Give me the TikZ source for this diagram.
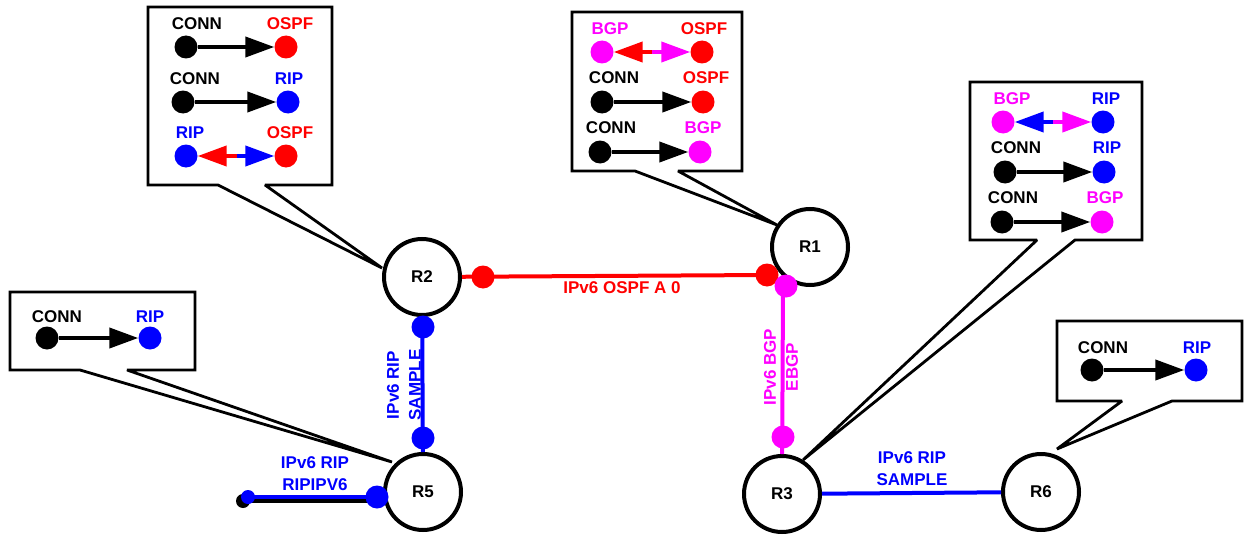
\documentclass[tikz,border=0pt]{standalone}
\usepackage{fontspec}
\setmainfont{Liberation Sans}
\usetikzlibrary{arrows.meta}
\definecolor{ospfc}{RGB}{255,0,0}
\definecolor{ripc}{RGB}{0,0,255}
\definecolor{bgpc}{RGB}{255,0,255}
\begin{document}
\begin{tikzpicture}[x=1pt,y=-1pt,
  every node/.style={font=\fontsize{17}{22}\selectfont\bfseries},
  router/.style={circle, draw=black, line width=4pt, fill=white, minimum size=76pt, inner sep=0pt},
  dotn/.style={circle, fill=#1, minimum size=23pt, inner sep=0pt},
  smalldot/.style={circle, fill=#1, minimum size=14pt, inner sep=0pt},
  arr/.style={line width=4pt, -{Triangle[length=29pt,width=20pt]}},
  callout/.style={draw=black, line width=2.8pt, fill=white, line join=miter, miter limit=2},
  link/.style={line width=4pt}]

% canvas
\path[fill=white] (0,0) rectangle (1245,535);
\useasboundingbox (0,0) rectangle (1245,535);

% callout boxes with tails pointing at their routers
\draw[callout] (218,185) -- (148,185) -- (148,7) -- (332,7) -- (332,185) -- (265,185) -- (382,268) -- cycle;
\draw[callout] (635,171) -- (572,171) -- (572,12) -- (742,12) -- (742,171) -- (678,171) -- (777,225) -- cycle;
\draw[callout] (1037,240) -- (970,240) -- (970,82) -- (1142,82) -- (1142,240) -- (1075,240) -- (803,460) -- cycle;
\draw[callout] (80,370) -- (10,370) -- (10,292) -- (195,292) -- (195,370) -- (127,370) -- (392,462) -- cycle;
\draw[callout] (1122,401) -- (1057,401) -- (1057,321) -- (1242,321) -- (1242,401) -- (1172,401) -- (1057,449) -- cycle;

% routers
\node[router] (R2) at (422,277) {R2};
\node[router] (R1) at (810,247) {R1};
\node[router] (R5) at (423,492) {R5};
\node[router] (R3) at (782,494) {R3};
\node[router] (R6) at (1041,492) {R6};

% link end points
\coordinate (pR2o) at (483,277);
\coordinate (pR1o) at (767,275);
\coordinate (pR1b) at (786,286);
\coordinate (pR1bl) at (783,286);
\coordinate (pR3b) at (783,437);
\coordinate (pR2r) at (423,327);
\coordinate (pR5r) at (423,438);
\coordinate (pR5w) at (377,497);
\coordinate (stubB) at (243,501);
\coordinate (stubBe) at (382,501);
\coordinate (stubA) at (248,497);
\coordinate (stubAe) at (382,497);

% links
\draw[link, ospfc] (R2) -- (pR1o);
\draw[link, bgpc] (pR1bl) -- (R3);
\draw[link, ripc] (R2) -- (R5);
\draw[link, ripc] (R3) -- (R6);
\draw[link, black] (stubB) -- (stubBe);
\draw[link, ripc] (stubA) -- (stubAe);

% interface dots
\node[dotn=ospfc] (dR2o) at (pR2o) {};
\node[dotn=ospfc] (dR1o) at (pR1o) {};
\node[dotn=bgpc] (dR1b) at (pR1b) {};
\node[dotn=bgpc] (dR3b) at (pR3b) {};
\node[dotn=ripc] (dR2r) at (pR2r) {};
\node[dotn=ripc] (dR5r) at (pR5r) {};
\node[dotn=ripc] (dR5w) at (pR5w) {};
\node[smalldot=black] (dStubB) at (stubB) {};
\node[smalldot=ripc] (dStubA) at (stubA) {};

% link labels
\node[text=ospfc] (lOspf) at (622,288) {IPv6 OSPF A 0};
\node[text=ripc, rotate=90, align=center] (lR25) at (404,385) {IPv6 RIP\\SAMPLE};
\node[text=bgpc, rotate=90, align=center] (lR13) at (781,367) {IPv6 BGP\\EBGP};
\node[text=ripc, align=center] (lR5) at (315,474) {IPv6 RIP\\RIPIPV6};
\node[text=ripc, align=center] (lR36) at (912,469) {IPv6 RIP\\SAMPLE};

% ---- R2 redistribution ----
\node (t1a) at (197,24) {CONN};
\node[text=ospfc] (t1b) at (290,24) {OSPF};
\node[dotn=black] (c1a) at (186,47) {};
\node[dotn=ospfc] (c1b) at (286,47) {};
\draw[arr] (c1a) -- (c1b);
\node (t1c) at (195,79) {CONN};
\node[text=ripc] (t1d) at (289,79) {RIP};
\node[dotn=black] (c1c) at (183,102) {};
\node[dotn=ripc] (c1d) at (288,102) {};
\draw[arr] (c1c) -- (c1d);
\node[text=ripc] (t1e) at (190,133) {RIP};
\node[text=ospfc] (t1f) at (290,133) {OSPF};
\node[dotn=ripc] (c1e) at (186,156) {};
\node[dotn=ospfc] (c1f) at (286,156) {};
\coordinate (c1m) at (237,156);
\draw[arr, ospfc] (c1m) -- (c1e);
\draw[arr, ripc] (c1m) -- (c1f);

% ---- R1 redistribution ----
\node[text=bgpc] (t2a) at (610,29) {BGP};
\node[text=ospfc] (t2b) at (704,29) {OSPF};
\node[dotn=bgpc] (c2a) at (602,52) {};
\node[dotn=ospfc] (c2b) at (702,52) {};
\coordinate (c2m) at (652,52);
\draw[arr, ospfc] (c2m) -- (c2a);
\draw[arr, bgpc] (c2m) -- (c2b);
\node (t2c) at (614,78) {CONN};
\node[text=ospfc] (t2d) at (706,78) {OSPF};
\node[dotn=black] (c2c) at (602,102) {};
\node[dotn=ospfc] (c2d) at (703,102) {};
\draw[arr] (c2c) -- (c2d);
\node (t2e) at (611,128) {CONN};
\node[text=bgpc] (t2f) at (703,128) {BGP};
\node[dotn=black] (c2e) at (600,152) {};
\node[dotn=bgpc] (c2f) at (700,152) {};
\draw[arr] (c2e) -- (c2f);

% ---- R3 redistribution ----
\node[text=bgpc] (t3a) at (1012,99) {BGP};
\node[text=ripc] (t3b) at (1106,99) {RIP};
\node[dotn=bgpc] (c3a) at (1003,122) {};
\node[dotn=ripc] (c3b) at (1103,122) {};
\coordinate (c3m) at (1053,122);
\draw[arr, ripc] (c3m) -- (c3a);
\draw[arr, bgpc] (c3m) -- (c3b);
\node (t3c) at (1016,148) {CONN};
\node[text=ripc] (t3d) at (1107,148) {RIP};
\node[dotn=black] (c3c) at (1005,172) {};
\node[dotn=ripc] (c3d) at (1104,172) {};
\draw[arr] (c3c) -- (c3d);
\node (t3e) at (1013,198) {CONN};
\node[text=bgpc] (t3f) at (1105,198) {BGP};
\node[dotn=black] (c3e) at (1002,222) {};
\node[dotn=bgpc] (c3f) at (1102,222) {};
\draw[arr] (c3e) -- (c3f);

% ---- R5 redistribution ----
\node (t4a) at (57,317) {CONN};
\node[text=ripc] (t4b) at (150,317) {RIP};
\node[dotn=black] (c4a) at (47,338) {};
\node[dotn=ripc] (c4b) at (150,338) {};
\draw[arr] (c4a) -- (c4b);

% ---- R6 redistribution ----
\node (t5a) at (1103,348) {CONN};
\node[text=ripc] (t5b) at (1197,348) {RIP};
\node[dotn=black] (c5a) at (1092,370) {};
\node[dotn=ripc] (c5b) at (1196,370) {};
\draw[arr] (c5a) -- (c5b);

\end{tikzpicture}
\end{document}
